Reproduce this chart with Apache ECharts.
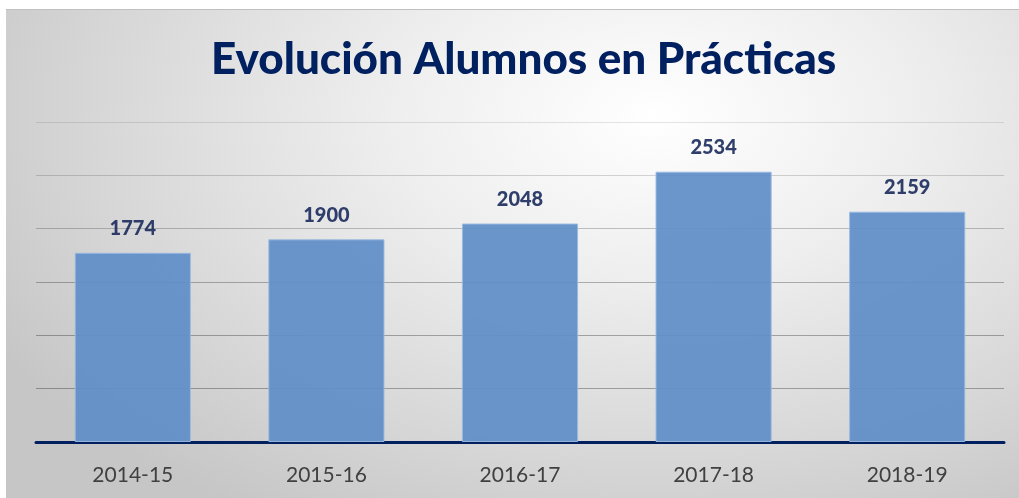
<!DOCTYPE html>
<html>
<head>
<meta charset="utf-8">
<script src="https://cdn.jsdelivr.net/npm/echarts@6/dist/echarts.min.js"></script>
<style>
  html, body { margin: 0; padding: 0; background: #ffffff; }
  #panel {
    position: absolute; left: 6px; top: 9px; width: 1013px; height: 489px;
    background: radial-gradient(ellipse 75% 95% at 64% 22%, #ffffff 0%, #eeeeee 35%, #d6d6d6 75%, #c6c6c6 100%);
    border-top: 1px solid #c0c0c0;
  }
  #chart { position: absolute; left: 0; top: 0; width: 1019px; height: 498px; }
</style>
</head>
<body>
<div id="panel"></div>
<div id="chart"></div>
<script>
// chart data
const titleText = 'Evolución Alumnos en Prácticas';
const cursos = ['2014-15', '2015-16', '2016-17', '2017-18', '2018-19'];
const alumnos = [1774, 1900, 2048, 2534, 2159];

const chart = echarts.init(document.getElementById('chart'));

// grid lines from 0 to 3000, the top one is paler
const gridColors = ['rgba(0,0,0,0.3)', 'rgba(0,0,0,0.3)', 'rgba(0,0,0,0.3)',
    'rgba(0,0,0,0.28)', 'rgba(0,0,0,0.22)', 'rgba(0,0,0,0.16)', 'rgba(0,0,0,0.1)'];

chart.setOption({
    backgroundColor: 'transparent',
    title: {
        text: titleText,
        left: 206,
        top: 33,
        textStyle: {
            fontFamily: 'Lato',
            fontWeight: 900,
            fontSize: 44,
            color: '#002060'
        }
    },
    grid: { left: 36, right: 15, top: 122, bottom: 56 },
    xAxis: {
        type: 'category',
        data: cursos,
        axisTick: { show: false },
        axisLine: { lineStyle: { color: '#002060', width: 3 } },
        axisLabel: {
            margin: 23,
            fontFamily: 'Lato',
            fontSize: 21,
            color: '#404040'
        }
    },
    yAxis: {
        type: 'value',
        min: 0,
        max: 3000,
        interval: 500,
        axisLabel: { show: false },
        axisLine: { show: false },
        axisTick: { show: false },
        splitLine: { lineStyle: { color: gridColors, width: 1 } }
    },
    series: [{
        type: 'bar',
        data: alumnos,
        barCategoryGap: '40%',
        itemStyle: {
            color: '#5f8ec8',
            borderColor: '#9bb9e0',
            borderWidth: 1,
            opacity: 0.93
        },
        label: {
            show: true,
            position: 'top',
            distance: 14,
            fontFamily: 'Lato',
            fontWeight: 900,
            fontSize: 20,
            color: '#1f2f60'
        }
    }]
});
</script>
</body>
</html>
